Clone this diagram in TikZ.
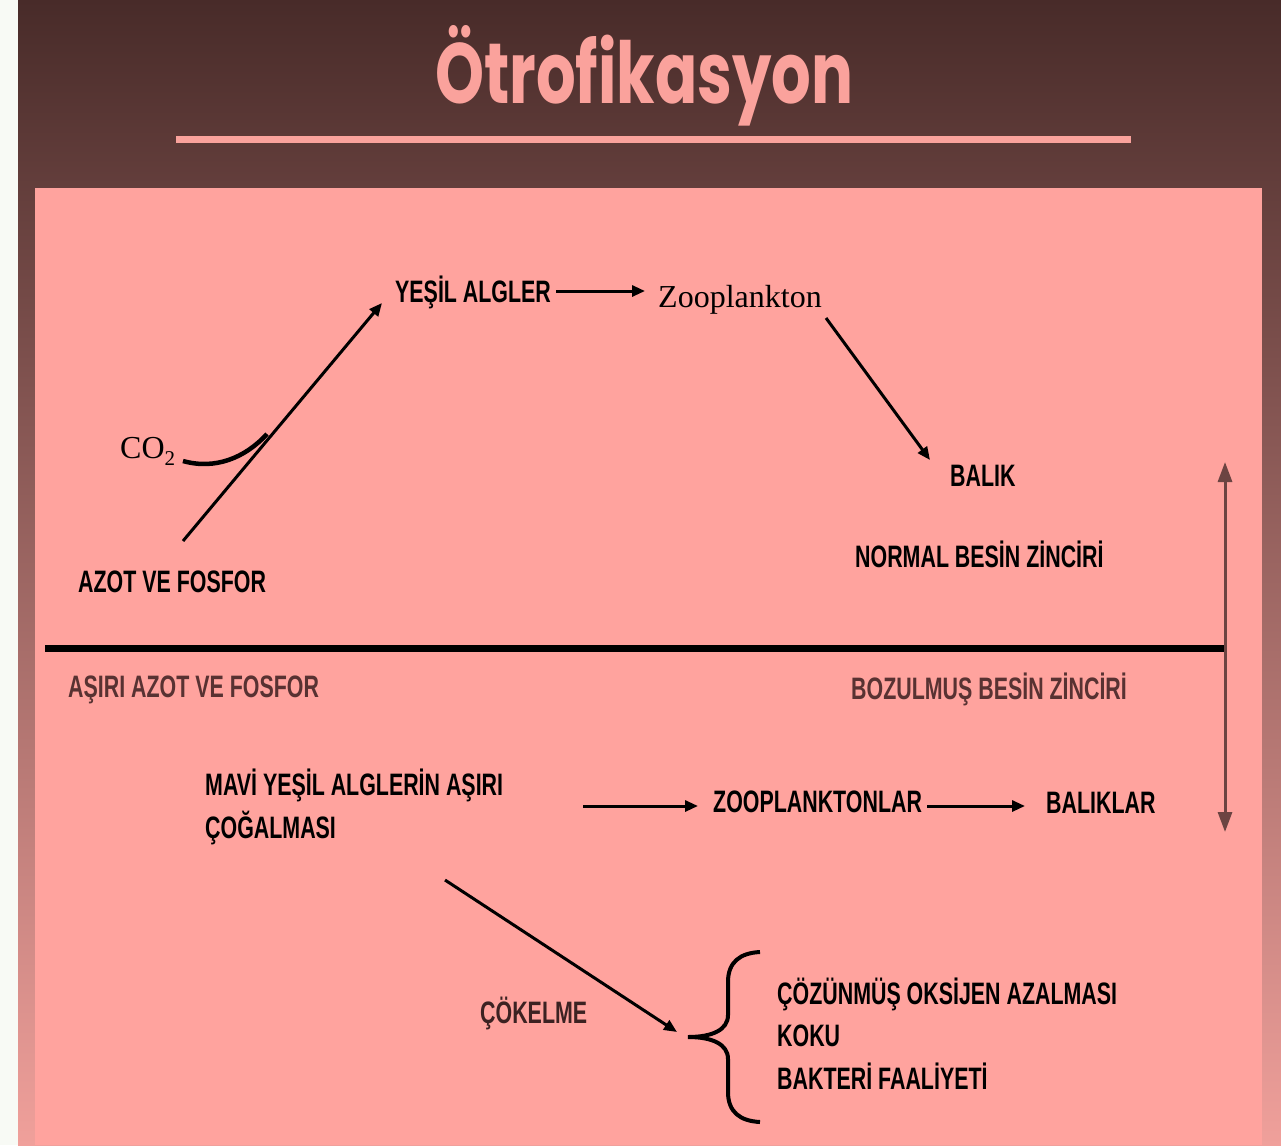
\documentclass[tikz,border=0pt]{standalone}
\usepackage{fontspec}
\setmainfont{Liberation Sans}
\newfontfamily\cnd[FakeStretch=0.69]{Liberation Sans}
\newfontfamily\srf{Liberation Serif}
\newfontfamily\ttl{Poppins}
\usetikzlibrary{arrows.meta}
\definecolor{pinkbg}{RGB}{255,163,158}
\definecolor{titlepink}{RGB}{250,162,156}
\definecolor{frametop}{RGB}{72,43,41}
\definecolor{framemid}{RGB}{160,102,98}
\definecolor{framebot}{RGB}{240,160,155}
\definecolor{darktext}{RGB}{88,50,50}
\definecolor{midtext}{RGB}{60,34,34}
\definecolor{arrowbrown}{RGB}{108,68,66}
\definecolor{leftstrip}{RGB}{248,250,245}
\begin{document}
\begin{tikzpicture}[x=1pt,y=-1pt,
  lbl/.style={font=\cnd\bfseries\fontsize{31}{31}\selectfont, inner sep=0pt, text height=22pt, text depth=0pt, anchor=west},
  srfl/.style={font=\srf\fontsize{32}{32}\selectfont, inner sep=0pt, text height=21pt, text depth=0pt, anchor=west},
  dark/.style={text=darktext},
  arr/.style={line width=3pt, -{Triangle[length=13pt,width=11pt]}},
  darr/.style={line width=3pt, draw=arrowbrown, {Triangle[length=20pt,width=14pt]}-{Triangle[length=20pt,width=14pt]}}]
\useasboundingbox (0,0) rectangle (1281,1145);
% background
\fill[leftstrip] (0,0) rectangle (18,1145);
\shade[top color=frametop, middle color=framemid, bottom color=framebot] (18,0) rectangle (1281,1145);
\fill[pinkbg] (35,188) rectangle (1262,1145);
% title
\node[inner sep=0pt, anchor=base west, text=titlepink] (title) at (435,103) {\resizebox{418pt}{78pt}{\ttl\fontseries{sb}\selectfont Ötrofikasyon}};
\coordinate (ul1) at (176,139);
\coordinate (ul2) at (1131,139);
\draw[titlepink, line width=7pt] (ul1) -- (ul2);
% upper part: normal food chain
\node[lbl] (yesil) at (395,291) {YEŞİL ALGLER};
\node[srfl] (zoo) at (658,297) {Zooplankton};
\node[lbl] (balik) at (950,475) {BALIK};
\node[lbl] (normal) at (855,556) {NORMAL BESİN ZİNCİRİ};
\node[srfl] (co2) at (120,448) {CO\raisebox{-7pt}{\fontsize{21}{21}\selectfont 2}};
\node[lbl] (azot) at (78,581) {AZOT VE FOSFOR};
\coordinate (d1) at (183,541);
\coordinate (d2) at (382,303);
\draw[arr] (d1) -- (d2);
\coordinate (c1) at (183,461);
\coordinate (c2) at (267,434);
\draw[line width=4.5pt] (c1) .. controls (215,470) and (245,458) .. (c2);
\draw[arr, shorten <=5pt, shorten >=13pt] (yesil.east) -- (yesil.east -| zoo.west);
\coordinate (z1) at (826,318);
\coordinate (z2) at (930,460);
\draw[arr] (z1) -- (z2);
% divider
\coordinate (h1) at (45,648);
\coordinate (h2) at (1226,648);
\draw[line width=7pt] (h1) -- (h2);
\coordinate (v1) at (1225,462);
\coordinate (v2) at (1225,832);
\draw[darr] (v1) -- (v2);
% lower part: disturbed food chain
\node[lbl, dark] (asiri) at (68,686) {AŞIRI AZOT VE FOSFOR};
\node[lbl, dark] (bozul) at (851,688) {BOZULMUŞ BESİN ZİNCİRİ};
\node[lbl] (mavi) at (205,784) {MAVİ YEŞİL ALGLERİN AŞIRI};
\node[lbl] (cog) at (205,827) {ÇOĞALMASI};
\node[lbl] (zoopl) at (713,801) {ZOOPLANKTONLAR};
\node[lbl] (baliklar) at (1046,802) {BALIKLAR};
\coordinate (m1) at (583,806);
\coordinate (m2) at (698,806);
\draw[arr] (m1) -- (m2);
\coordinate (p1) at (927,806);
\coordinate (p2) at (1025,806);
\draw[arr] (p1) -- (p2);
\node[lbl, text=midtext] (cokelme) at (480,1012) {ÇÖKELME};
\coordinate (k1) at (445,880);
\coordinate (k2) at (677,1032);
\draw[arr] (k1) -- (k2);
\coordinate (b1) at (760,952);
\coordinate (b2) at (688,1037);
\coordinate (b3) at (760,1122);
\draw[line width=4pt] (b1) .. controls (740,953) and (728,962) .. (728,982)
  -- (728,1015) .. controls (728,1030) and (712,1037) .. (b2)
  .. controls (712,1037) and (728,1044) .. (728,1059)
  -- (728,1092) .. controls (728,1112) and (740,1121) .. (b3);
\node[lbl] (coz) at (777,993) {ÇÖZÜNMÜŞ OKSİJEN AZALMASI};
\node[lbl] (koku) at (777,1035) {KOKU};
\node[lbl] (bakteri) at (777,1078) {BAKTERİ FAALİYETİ};
\end{tikzpicture}
\end{document}
